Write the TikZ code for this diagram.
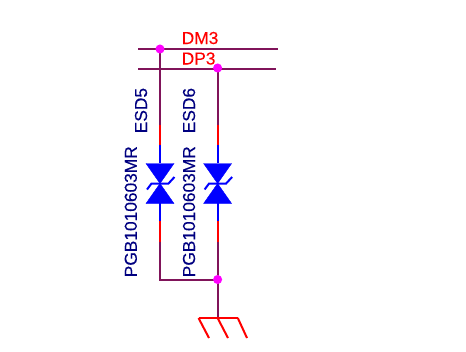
\documentclass[tikz,border=0pt]{standalone}
\usepackage{fontspec}
\setmainfont{Liberation Sans}
\newfontfamily\lblfont[FakeBold=0.2]{Liberation Sans}
\usetikzlibrary{backgrounds}
\definecolor{netc}{RGB}{128,20,90}
\definecolor{pinc}{RGB}{255,0,0}
\definecolor{bodyc}{RGB}{0,0,255}
\definecolor{junc}{RGB}{255,0,255}
\definecolor{desc}{RGB}{0,0,128}
\tikzset{
 net/.style={draw=netc,line width=1.5pt},
 pin/.style={draw=pinc,line width=1.5pt},
 blu/.style={draw=bodyc,line width=1.5pt},
 tri/.style={fill=bodyc,draw=bodyc,line width=0.3pt},
 dot/.style={circle,fill=junc,inner sep=0pt,minimum size=6.8pt},
 netlabel/.style={text=pinc,font=\lblfont\fontsize{13}{14}\selectfont,inner sep=0pt,anchor=base west},
 des/.style={text=desc,font=\lblfont\fontsize{13}{14}\selectfont,inner sep=0pt,rotate=90,anchor=base west},
 gnd/.style={draw=pinc,line width=1.5pt},
}
\begin{document}
\begin{tikzpicture}[x=0.75pt,y=-0.75pt]
\useasboundingbox (0,0) rectangle (466,351);
\coordinate (dmL) at (138,49);
\coordinate (dmR) at (278,49);
\coordinate (dpL) at (138,68.5);
\coordinate (dpR) at (276,68.5);
\node[dot] (j1) at (160,49) {};
\node[dot] (j2) at (217.6,68) {};
\node[dot] (j3) at (217.6,279.5) {};
\coordinate (cnr) at (160,279.5);
\coordinate (g) at (217.6,318);
\begin{scope}[on background layer]
\draw[net] (dmL) -- (dmR);
\draw[net] (dpL) -- (dpR);
\draw[net] (j1.center) -- (160,125);
\draw[net] (j2.center) -- (217.6,125);
\draw[net] (160,242) -- (cnr) -- (j3.center);
\draw[net] (217.6,242) -- (j3.center) -- (g);
\end{scope}
\foreach \x in {160,217.6}{
 \draw[pin] (\x,125) -- (\x,145);
 \draw[blu] (\x,145) -- (\x,163);
 \draw[tri] (\x-14,163.5) -- (\x+14,163.5) -- (\x,183.5) -- cycle;
 \draw[tri] (\x-14,203.5) -- (\x+14,203.5) -- (\x,183.5) -- cycle;
 \draw[blu] (\x-13,189.5) -- (\x-8.5,183.5) -- (\x+8.5,183.5) -- (\x+14.5,177);
 \draw[blu] (\x,203) -- (\x,221);
 \draw[pin] (\x,221) -- (\x,242);
}
\draw[gnd] (198.5,318) -- (237.8,318);
\draw[gnd] (198.5,318) -- (209,338);
\draw[gnd] (g) -- (228,338);
\draw[gnd] (237.8,318) -- (247,338);
\node[netlabel] (dm) at (181.5,44) {DM3};
\node[netlabel] (dp) at (181.5,64.5) {DP3};
\node[des] (e5) at (147,133.5) {ESD5};
\node[des] (e6) at (195,133.5) {ESD6};
\node[des] (p5) at (136.8,277.5) {PGB1010603MR};
\node[des] (p6) at (195,277.5) {PGB1010603MR};
\end{tikzpicture}
\end{document}
